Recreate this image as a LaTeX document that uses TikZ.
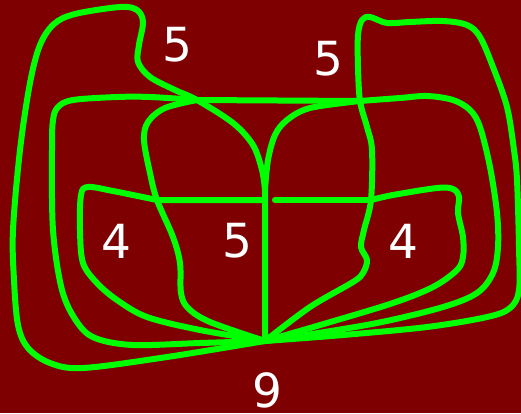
\documentclass[tikz,border=0pt]{standalone}
\usepackage{fontspec}
\setmainfont{DejaVu Sans}
\definecolor{bgred}{RGB}{127,0,0}
\definecolor{lgreen}{RGB}{0,255,0}
\tikzset{
  curve/.style={draw=lgreen, line width=6pt, line cap=round, line join=round},
  lbl/.style={text=white, inner sep=0pt, font=\fontsize{47}{50}\selectfont}
}
\begin{document}
\begin{tikzpicture}[x=1pt,y=-1pt]
\fill[bgred] (0,0) rectangle (521,413);
\useasboundingbox (0,0) rectangle (521,413);
% junctions
\coordinate (P) at (265,341);
\coordinate (J1) at (197,100);
\coordinate (J2) at (360,101);
\coordinate (J3) at (157,200);
\coordinate (J4) at (371,200);
\coordinate (V) at (265,200);
\coordinate (G) at (275,200);
\coordinate (T) at (265,190);
% 1 outer left loop
\draw[curve] plot[smooth, tension=0.55] coordinates {(P) (167,357) (83,368) (50,363) (28,348) (18,325) (14,280) (13,230) (20,150) (30,83) (40,45) (54,24) (75,14) (120,7) (137,10) (143,22) (139,45) (138,62) (150,77) (175,90) (J1) (233,123) (253,145) (262,170) (T)} -- (P);
% 2 second loop left
\draw[curve] plot[smooth, tension=0.55] coordinates {(P) (200,343) (133,345) (95,338) (77,322) (62,290) (53,230) (52,150) (53,120) (58,107) (73,100) (117,97) (150,97) (J1)} -- (J2);
% 3 inner left
\draw[curve] plot[smooth, tension=0.55] coordinates {(J1) (165,108) (148,122) (144,140) (150,173) (J3) (173,237) (180,263) (181,293) (188,308) (210,322) (P)};
% 4 left small loop
\draw[curve] plot[smooth, tension=0.55] coordinates {(P) (200,330) (147,317) (117,300) (97,283) (83,263) (80,230) (81,195) (88,187) (113,191) (J3)} -- (V);
% 5 outer right loop
\draw[curve] plot[smooth, tension=0.55] coordinates {(P) (343,335) (427,327) (487,317) (510,308) (519,290) (519,247) (517,180) (514,150) (507,107) (493,67) (480,37) (467,25) (443,21) (410,22) (387,23) (370,17) (362,20) (358,35) (358,67) (J2) (367,127) (372,150) (J4) (364,230) (361,247) (367,260) (363,273) (353,282) (310,307) (P)};
% 6 second loop right
\draw[curve] plot[smooth, tension=0.55] coordinates {(J2) (400,98) (427,96) (453,100) (470,110) (480,127) (490,167) (497,213) (498,247) (493,273) (477,293) (443,307) (377,323) (293,337) (P)};
% 7 inner right
\draw[curve] plot[smooth, tension=0.55] coordinates {(J2) (310,108) (287,120) (275,135) (268,160) (T)};
% 8 right small loop
\draw[curve] (G) -- (J4);
\draw[curve] plot[smooth, tension=0.55] coordinates {(J4) (393,195) (437,188) (453,189) (459,197) (458,213) (463,237) (463,257) (457,270) (433,287) (393,303) (327,323) (P)};
% labels
\node[lbl] (a) at (177,45) {5};
\node[lbl] (b) at (328,59) {5};
\node[lbl] (c) at (116,241) {4};
\node[lbl] (d) at (237,241) {5};
\node[lbl] (e) at (403,241) {4};
\node[lbl] (f) at (267,390) {9};
\end{tikzpicture}
\end{document}
